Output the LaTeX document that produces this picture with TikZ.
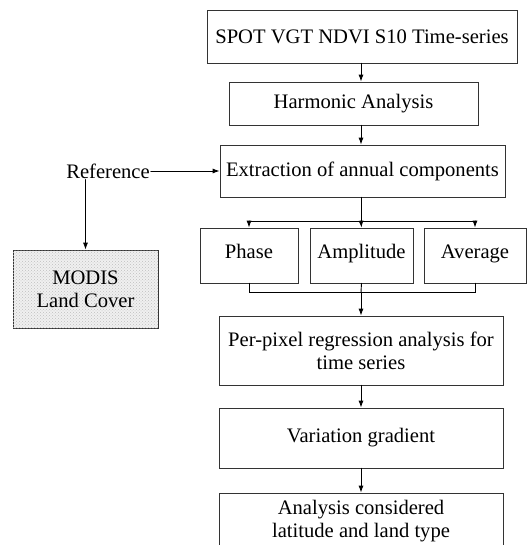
\documentclass[tikz,border=0pt]{standalone}
\usepackage{fontspec}
\setmainfont{Liberation Serif}
\usetikzlibrary{arrows.meta,patterns}

\begin{document}
\begin{tikzpicture}[x=1pt,y=-1pt,>={Latex[length=7pt,width=5pt]},line cap=round,
  font=\fontsize{20.6}{23}\selectfont,
  stage/.style={draw=black!80,line width=0.7pt,inner sep=0pt,align=center},
  part/.style={stage,minimum height=55,text height=1.6ex,text depth=.4ex},
  link/.style={line width=0.9pt}]
\clip (0,0) rectangle (527,545);
\coordinate (col) at (361,0);
\node[stage,minimum width=310,minimum height=53] (spot) at (362,36.5) {SPOT VGT NDVI S10 Time-series};
\node[stage,minimum width=249,minimum height=43] (harm) at (353.5,103.5) {Harmonic Analysis};
\node[stage,minimum width=285,minimum height=52] (extr) at (362.5,171) {Extraction of annual components};
\node[inner sep=1pt] (ref) at (108,171) {Reference};
\node[stage,minimum width=145,minimum height=78,fill=gray!12,
  postaction={pattern=crosshatch dots,pattern color=gray!50}] (modis) at (85.5,289) {MODIS\\Land Cover};
\node[part,minimum width=98] (phase) at (249,255.5) {Phase};
\node[part,minimum width=103] (ampl) at (361.5,255.5) {Amplitude};
\node[part,minimum width=102] (avg) at (475,255.5) {Average};
\node[stage,minimum width=284,minimum height=69] (regr) at (361,350.5) {Per-pixel regression analysis for\\time series};
\node[stage,minimum width=284,minimum height=60] (grad) at (361,438) {Variation gradient};
\node[stage,minimum width=284,minimum height=57] (anal) at (361,521.5) {Analysis considered\\latitude and land type};
\coordinate (split) at (361,221);
\coordinate (join) at (361,292);
\draw[link,->] (spot.south -| col) -- (harm.north -| col);
\draw[link,->] (harm.south -| col) -- (extr.north -| col);
\draw[link,->] (ref.east) -- (extr.west |- ref.east);
\draw[link,->] (ref.south -| modis.north) -- (modis.north);
\draw[link] (extr.south -| col) -- (split);
\draw[link] (phase.north |- split) -- (avg.north |- split);
\draw[link,->] (phase.north |- split) -- (phase.north);
\draw[link,->] (split) -- (ampl.north);
\draw[link,->] (avg.north |- split) -- (avg.north);
\draw[link] (phase.south) -- (phase.south |- join) -- (avg.south |- join) -- (avg.south);
\draw[link] (ampl.south) -- (join);
\draw[link,->] (join) -- (regr.north);
\draw[link,->] (regr.south) -- (grad.north);
\draw[link,->] (grad.south) -- (anal.north);
\end{tikzpicture}
\end{document}
